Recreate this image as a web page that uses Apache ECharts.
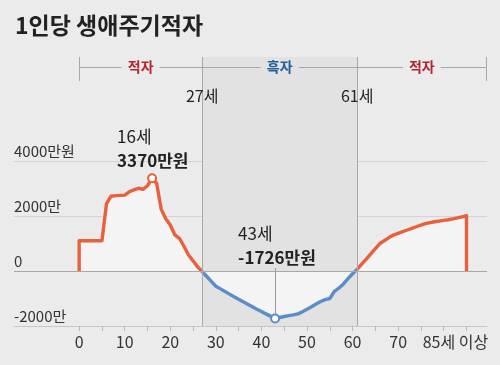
<!DOCTYPE html>
<html>
<head>
<meta charset="utf-8">
<script src="https://cdn.jsdelivr.net/npm/echarts@6/dist/echarts.min.js"></script>
<style>
html,body{margin:0;padding:0;background:#ebebeb;}
#chart{width:500px;height:365px;}
</style>
</head>
<body>
<div id="chart"></div>
<script>
// ---- data ----
const title = '1인당 생애주기적자';
const ages = [0,0,1,2,3,4,5,6,7,8,9,10,11,12,13,14,15,16,17,18,19,20,21,22,23,24,25,26,27,
  28,29,30,31,32,33,34,35,36,37,38,39,40,41,42,43,44,45,46,47,48,49,50,51,52,53,54,55,56,57,58,59,60,61,
  62,63,64,65,66,67,68,69,70,71,72,73,74,75,76,77,78,79,80,81,82,83,84,85,85];
const deficit = [0,1100,1100,1100,1100,1100,1100,2450,2720,2740,2750,2760,2880,2950,3010,2970,3100,3370,3190,2250,1900,1670,1310,1190,900,580,370,150,-20,
  -200,-380,-555,-650,-745,-840,-935,-1025,-1120,-1210,-1300,-1390,-1475,-1560,-1640,-1726,-1690,-1655,-1625,-1595,-1560,-1480,-1390,-1300,-1200,-1110,-1040,-1000,-740,-620,-470,-280,-100,60,
  250,430,620,810,1000,1110,1215,1310,1370,1430,1490,1550,1610,1670,1720,1760,1790,1815,1840,1865,1895,1930,1970,2010,0];
const surplusStart = 27, surplusEnd = 61;
const bandLabels = ['적자', '흑자', '적자'];
const xTicks = [0,5,10,15,20,25,30,35,40,45,50,55,60,65,70,75,80,85];
const xLabels = [0,10,20,30,40,50,60,70,85];
const yTicks = [-2000, 0, 2000, 4000];
const yTickLabels = ['-2000만', '0', '2000만', '4000만원'];
const peak = {age: 16, value: 3370, ageText: '16세', valueText: '3370만원'};
const trough = {age: 43, value: -1726, ageText: '43세', valueText: '-1726만원'};

// ---- styles ----
const RED = '#e8603c', BLUE = '#5b8dcc';
const LRED = '#b3262f', LBLUE = '#1c5e9e';
const SHADE = '#e2e2e2', BG = '#ebebeb';
const FONT = "'Liberation Sans Narrow','Noto Sans CJK KR',sans-serif";
const KFONT = "'Noto Sans CJK KR',sans-serif";
const XMIN = -14.3, XMAX = 89.5;

const pts = ages.map((a, i) => [a, deficit[i]]);
const seg1 = pts.filter(p => p[0] <= surplusStart);
const seg2 = pts.filter(p => p[0] >= surplusStart && p[0] <= surplusEnd);
const seg3 = pts.filter(p => p[0] >= surplusEnd);

function lineSeries(data, color, extra) {
  return Object.assign({
    type: 'line', xAxisIndex: 0, yAxisIndex: 0, data: data,
    symbol: 'none', z: 3, silent: true, animation: false,
    lineStyle: {color: color, width: 3.4, join: 'round'},
    areaStyle: {color: '#f4f4f4', opacity: 1}
  }, extra || {});
}

function annot(p, color, dx, dy) {
  return {
    symbol: 'circle', symbolSize: 8,
    itemStyle: {color: '#fff', borderColor: color, borderWidth: 2},
    data: [{
      coord: [p.age, p.value],
      label: {
        show: true, position: 'inside', align: 'left', verticalAlign: 'middle',
        offset: [dx, dy],
        formatter: '{a|' + p.ageText + '}\n{b|' + p.valueText + '}',
        rich: {
          a: {fontFamily: FONT, fontSize: 17, color: '#222', lineHeight: 24},
          b: {fontFamily: FONT, fontSize: 17, fontWeight: 'bold', color: '#222', lineHeight: 24}
        }
      }
    }]
  };
}

const BY = 0.963, CAPT = 1.0, CAPB = 0.911, AGEY = 0.855;
function bandSeg(x0, x1, text, color, bg) {
  return [{coord: [x0, BY], label: {show: true, position: 'middle', distance: 0,
      verticalAlign: 'middle', formatter: text,
      color: color, fontFamily: KFONT, fontWeight: 'bold', fontSize: 14,
      backgroundColor: bg, padding: [0, 6]}},
    {coord: [x1, BY]}];
}

const option = {
  backgroundColor: BG,
  animation: false,
  title: {
    text: title, left: 10, top: 9,
    textStyle: {fontFamily: KFONT, fontSize: 23, fontWeight: 'bold', color: '#222'}
  },
  grid: [
    {left: 14, right: 13, top: 161, bottom: 39},
    {left: 14, right: 13, top: 57, bottom: 39}
  ],
  xAxis: [{
    type: 'value', gridIndex: 0, min: XMIN, max: XMAX, z: 1,
    axisLine: {show: true, onZero: false, lineStyle: {color: '#c8c8c8'}},
    axisTick: {show: true, customValues: xTicks, length: 5, lineStyle: {color: '#b8b8b8'}},
    axisLabel: {
      customValues: xLabels, margin: 8, fontFamily: FONT, fontSize: 16, color: '#333',
      formatter: v => v === 85 ? '{r|85세 이상}' : String(v),
      rich: {r: {fontFamily: FONT, fontSize: 16, color: '#333', padding: [0, 22, 0, 0]}}
    },
    splitLine: {show: false}
  }, {
    type: 'value', gridIndex: 1, min: XMIN, max: XMAX, show: false
  }],
  yAxis: [{
    type: 'value', gridIndex: 0, min: -2000, max: 4000, interval: 2000, z: 1,
    axisLine: {show: false}, axisTick: {show: false},
    axisLabel: {
      inside: true, margin: 0, align: 'left', verticalAlign: 'bottom', padding: [0, 0, 2, 0],
      fontFamily: FONT, fontSize: 15, color: '#333',
      formatter: v => { const i = yTicks.indexOf(v); return i >= 0 ? yTickLabels[i] : ''; }
    },
    splitLine: {show: true, lineStyle: {color: '#d4d4d4'}}
  }, {
    type: 'value', gridIndex: 1, min: 0, max: 1, show: false
  }],
  series: [
    {
      type: 'line', xAxisIndex: 1, yAxisIndex: 1, data: [], z: 0, silent: true,
      markArea: {silent: true, itemStyle: {color: SHADE, opacity: 1},
        data: [[{xAxis: surplusStart}, {xAxis: surplusEnd}]]},
      markLine: {
        silent: true, symbol: ['none', 'none'], animation: false,
        lineStyle: {color: '#a8a8a8', width: 1, type: 'solid'},
        label: {show: false},
        data: [
          [{coord: [surplusStart, 0]}, {coord: [surplusStart, CAPT]}],
          [{coord: [surplusEnd, 0]}, {coord: [surplusEnd, CAPT]}],
          [{coord: [0, CAPB]}, {coord: [0, CAPT]}],
          [{coord: [XMAX - 0.1, CAPB]}, {coord: [XMAX - 0.1, CAPT]}],
          bandSeg(0, surplusStart, bandLabels[0], LRED, BG),
          bandSeg(surplusStart, surplusEnd, bandLabels[1], LBLUE, SHADE),
          bandSeg(surplusEnd, XMAX - 0.1, bandLabels[2], LRED, BG)
        ]
      },
      markPoint: {
        silent: true, symbol: 'circle', symbolSize: 0,
        label: {show: true, position: 'inside', fontFamily: FONT, fontSize: 16, color: '#222'},
        data: [
          {coord: [surplusStart, AGEY], label: {formatter: surplusStart + '세'}},
          {coord: [surplusEnd, AGEY], label: {formatter: surplusEnd + '세'}}
        ]
      }
    },
    lineSeries(seg1, RED, {
      markLine: {silent: true, symbol: ['none', 'none'], label: {show: false},
        lineStyle: {color: '#a8a8a8', width: 1, type: 'solid'},
        data: [{yAxis: 0}]},
      markPoint: annot(peak, RED, -35, -30)
    }),
    lineSeries(seg2, BLUE, {
      markLine: {silent: true, symbol: ['none', 'none'], label: {show: false},
        lineStyle: {color: '#999', width: 1, type: 'solid'},
        data: [[{coord: [trough.age, trough.value]}, {coord: [trough.age, 110]}]]},
      markPoint: annot(trough, BLUE, -37, -73)
    }),
    lineSeries(seg3, RED)
  ]
};

const chart = echarts.init(document.getElementById('chart'), null, {renderer: 'canvas'});
chart.setOption(option);
</script>
</body>
</html>
